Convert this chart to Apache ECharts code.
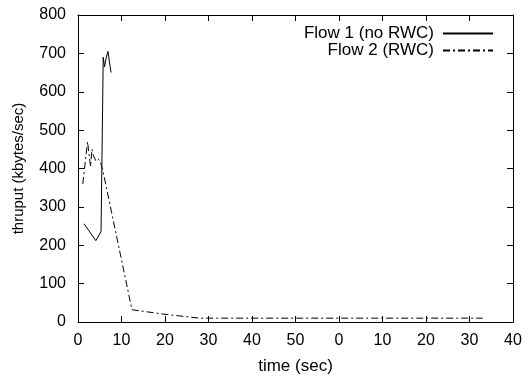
<!DOCTYPE html>
<html><head><meta charset="utf-8">
<script src="https://cdn.jsdelivr.net/npm/echarts@6/dist/echarts.min.js"></script>
<style>html,body{margin:0;padding:0;background:#fff}#c{width:526px;height:380px}</style>
</head><body><div id="c"></div>
<script>
var flow1Time = [1.4, 4.1, 5.3, 5.8, 6.1, 6.5, 6.9, 7.2, 7.6];
var flow1Thru = [256, 212, 236, 690, 665, 690, 705, 680, 650];
var flow2Time = [1.1, 1.6, 2.2, 2.5, 2.9, 3.2, 3.5, 4.1, 4.6, 5.1, 5.8, 12.4, 20, 28, 30, 40, 50, 60, 70, 80, 93];
var flow2Thru = [360, 410, 470, 440, 405, 450, 435, 420, 425, 420, 390, 32, 20, 10, 10, 10, 10, 10, 10, 10, 10];
var seriesNames = ['Flow 1 (no RWC)', 'Flow 2 (RWC)'];
var xTitle = 'time (sec)';
var yTitle = 'thruput (kbytes/sec)';

function pairs(t, v){ return t.map(function(x,i){return [x, v[i]];}); }
var font = 'Liberation Sans, Arial, Helvetica, sans-serif';
var axLine = {show:true, onZero:false, lineStyle:{color:'#000', width:1}};
var axTick = {show:true, inside:true, length:6, lineStyle:{color:'#000'}};
var chart = echarts.init(document.getElementById('c'), null, {renderer:'canvas'});
chart.setOption({
  animation:false,
  backgroundColor:'#fff',
  grid:{left:78, right:13, top:15, bottom:56},
  legend:{
    orient:'vertical', right:27, top:20, align:'right', itemGap:0,
    itemWidth:50, itemHeight:12,
    itemStyle:{color:'rgba(0,0,0,0)', borderColor:'rgba(0,0,0,0)', borderWidth:0},
    textStyle:{fontFamily:font, fontSize:17, color:'#000', lineHeight:17, padding:[0,4,0,0]},
    data:seriesNames
  },
  xAxis:[{
    type:'value', min:0, max:100, interval:10,
    name:xTitle, nameLocation:'middle', nameGap:36,
    nameTextStyle:{fontFamily:font, fontSize:17, color:'#000'},
    axisLine:axLine, axisTick:axTick,
    axisLabel:{fontFamily:font, fontSize:16, color:'#000', margin:11,
      formatter:function(v){return String(v % 60);}},
    splitLine:{show:false}
  },{
    type:'value', min:0, max:100, interval:10, position:'top',
    axisLine:axLine, axisTick:axTick,
    axisLabel:{show:false}, splitLine:{show:false}
  }],
  yAxis:[{
    type:'value', min:0, max:800, interval:100,
    name:yTitle, nameLocation:'middle', nameGap:52,
    nameTextStyle:{fontFamily:font, fontSize:15, color:'#000'},
    axisLine:axLine, axisTick:axTick,
    axisLabel:{fontFamily:font, fontSize:16, color:'#000', margin:12},
    splitLine:{show:false}
  },{
    type:'value', min:0, max:800, interval:100, position:'right',
    axisLine:axLine, axisTick:axTick,
    axisLabel:{show:false}, splitLine:{show:false}
  }],
  series:[{
    name:seriesNames[0], type:'line', data:pairs(flow1Time, flow1Thru),
    showSymbol:false, symbol:'none', color:'#000',
    lineStyle:{color:'#000', width:1}
  },{
    name:seriesNames[1], type:'line', data:pairs(flow2Time, flow2Thru),
    showSymbol:false, symbol:'none', color:'#000',
    lineStyle:{color:'#000', width:1, type:[7,3,2,3]}
  }]
});
</script></body></html>
